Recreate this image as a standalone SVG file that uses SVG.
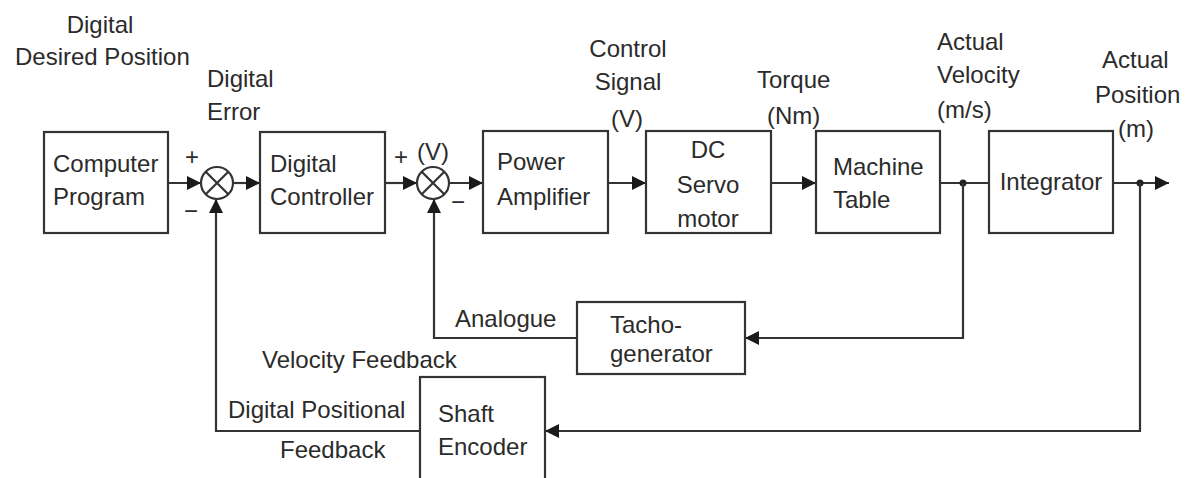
<svg xmlns="http://www.w3.org/2000/svg" width="1191" height="478" viewBox="0 0 1191 478">
<style>
text{font-family:"Liberation Sans",Arial,sans-serif;font-size:24px;fill:#2b2b2b}
.c{text-anchor:middle}
.sg{font-size:24px}
.box{fill:#fff;stroke:#333;stroke-width:2.2}
.ln{fill:none;stroke:#333;stroke-width:2.2}
</style>
<defs>
<marker id="ah" markerWidth="15" markerHeight="14" refX="14" refY="7" orient="auto" markerUnits="userSpaceOnUse">
<path d="M0,0 L14,7 L0,14 Z" fill="#1a1a1a"/>
</marker>
</defs>
<rect width="1191" height="478" fill="#fff"/>
<g id="connectors">
<line class="ln" x1="168" y1="183" x2="201" y2="183" marker-end="url(#ah)"/>
<line class="ln" x1="233" y1="183" x2="260" y2="183" marker-end="url(#ah)"/>
<line class="ln" x1="385" y1="183" x2="417" y2="183" marker-end="url(#ah)"/>
<line class="ln" x1="449" y1="183" x2="483" y2="183" marker-end="url(#ah)"/>
<line class="ln" x1="608" y1="183" x2="646" y2="183" marker-end="url(#ah)"/>
<line class="ln" x1="771" y1="183" x2="816" y2="183" marker-end="url(#ah)"/>
<line class="ln" x1="940" y1="183" x2="989" y2="183"/>
<line class="ln" x1="1113" y1="183" x2="1169" y2="183" marker-end="url(#ah)"/>
<circle cx="963" cy="183" r="3.5" fill="#222"/>
<circle cx="1140" cy="183" r="3.5" fill="#222"/>
<polyline class="ln" points="963,183 963,338 745,338" marker-end="url(#ah)"/>
<polyline class="ln" points="577,338 434,338 434,199" marker-end="url(#ah)"/>
<polyline class="ln" points="1140,183 1140,431 545,431" marker-end="url(#ah)"/>
<polyline class="ln" points="420,431 216,431 216,199" marker-end="url(#ah)"/>
</g>
<g id="computer-program">
<rect class="box" x="44" y="132" width="124" height="101"/>
<text x="53" y="172">Computer</text>
<text x="53" y="205">Program</text>
</g>
<g id="sum1">
<circle class="box" cx="217" cy="183" r="16"/>
<path class="ln" d="M205.7,171.7 L228.3,194.3 M228.3,171.7 L205.7,194.3" stroke-width="1.5"/>
</g>
<g id="digital-controller">
<rect class="box" x="260" y="132" width="125" height="101"/>
<text x="270" y="172">Digital</text>
<text x="270" y="205">Controller</text>
</g>
<g id="sum2">
<circle class="box" cx="433" cy="183" r="16"/>
<path class="ln" d="M421.7,171.7 L444.3,194.3 M444.3,171.7 L421.7,194.3" stroke-width="1.5"/>
</g>
<g id="power-amplifier">
<rect class="box" x="483" y="131" width="125" height="102"/>
<text x="497" y="170">Power</text>
<text x="497" y="205">Amplifier</text>
</g>
<g id="dc-servo-motor">
<rect class="box" x="646" y="131" width="125" height="102"/>
<text class="c" x="708" y="158">DC</text>
<text class="c" x="708" y="193">Servo</text>
<text class="c" x="708" y="227">motor</text>
</g>
<g id="machine-table">
<rect class="box" x="816" y="131" width="124" height="102"/>
<text x="833" y="175">Machine</text>
<text x="833" y="208">Table</text>
</g>
<g id="integrator">
<rect class="box" x="989" y="131" width="124" height="102"/>
<text class="c" x="1051" y="190">Integrator</text>
</g>
<g id="tachogenerator">
<rect class="box" x="577" y="302" width="168" height="72"/>
<text x="610" y="333">Tacho-</text>
<text x="610" y="362">generator</text>
</g>
<g id="shaft-encoder">
<rect class="box" x="420" y="377" width="125" height="105"/>
<text x="438" y="422">Shaft</text>
<text x="438" y="455">Encoder</text>
</g>
<g id="labels">
<text class="c" x="100" y="33">Digital</text>
<text x="15" y="65">Desired Position</text>
<text x="207" y="87">Digital</text>
<text x="207" y="120">Error</text>
<text class="sg c" x="192" y="165">+</text>
<text class="sg c" x="191" y="219">−</text>
<text class="sg c" x="401" y="165">+</text>
<text x="417" y="160">(V)</text>
<text class="sg c" x="458" y="210">−</text>
<text class="c" x="628" y="57">Control</text>
<text class="c" x="628" y="90">Signal</text>
<text class="c" x="627" y="127">(V)</text>
<text x="757" y="88">Torque</text>
<text x="767" y="124">(Nm)</text>
<text x="937" y="50">Actual</text>
<text x="937" y="83">Velocity</text>
<text x="937" y="118">(m/s)</text>
<text x="1102" y="68">Actual</text>
<text x="1095" y="103">Position</text>
<text x="1118" y="137">(m)</text>
<text x="455" y="327">Analogue</text>
<text x="262" y="368">Velocity Feedback</text>
<text x="228" y="418">Digital Positional</text>
<text x="280" y="458">Feedback</text>
</g>
</svg>
